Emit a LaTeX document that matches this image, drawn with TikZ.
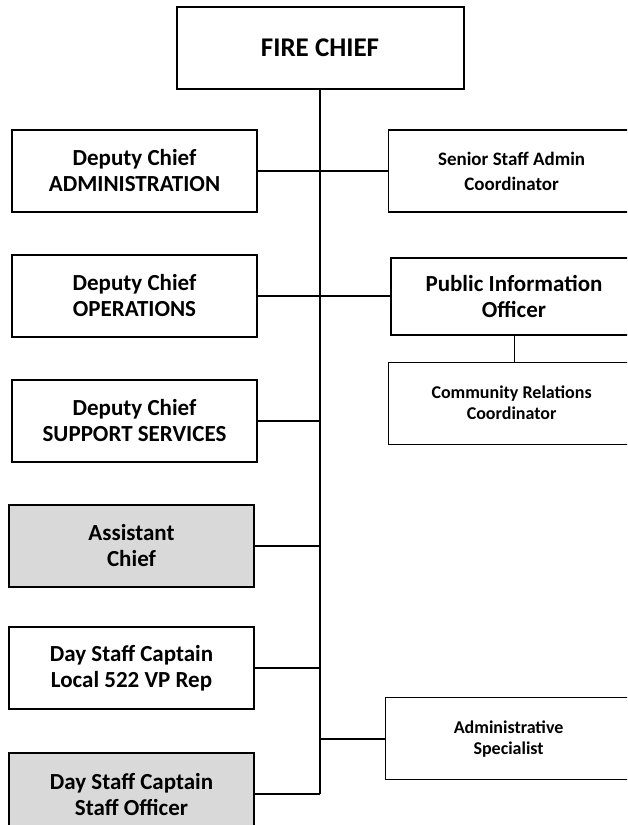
\documentclass[tikz,border=0pt]{standalone}
\usepackage{fontspec}
\setmainfont{Carlito}
\usetikzlibrary{positioning}
\definecolor{grayfill}{HTML}{D9D9D9}
\colorlet{colLine}{black}
\colorlet{colFill}{grayfill}
\tikzset{
  boxBase/.style={
    draw=colLine, line width=2pt, inner sep=0pt,
    minimum height=82pt, minimum width=245pt,
    align=center, font=\fontsize{23}{26}\selectfont\bfseries,
    fill=white
  },
  boxChief/.style={boxBase, minimum width=287pt, font=\fontsize{27}{32}\selectfont\bfseries},
  boxGray/.style={boxBase, fill=colFill},
  boxStaff/.style={boxBase, line width=1.2pt, minimum width=246pt,
    font=\fontsize{18}{21}\selectfont\bfseries},
  boxInfo/.style={boxBase, minimum width=246pt, minimum height=77pt},
  connector/.style={line width=2pt, colLine},
  connectorThin/.style={line width=0.8pt, colLine},
}
\begin{document}
\begin{tikzpicture}
    \useasboundingbox (0,0) rectangle (627pt,-825pt);
    \clip (0,0) rectangle (627pt,-825pt);

    % Fire chief
    \node[boxChief] (chief) at (320pt,-48pt) {FIRE CHIEF};

    % Left column
    \node[boxBase, anchor=north west] (dcAdmin) at (11pt,-129pt) {Deputy Chief\\ADMINISTRATION};
    \node[boxBase, below=41pt of dcAdmin] (dcOper) {Deputy Chief\\OPERATIONS};
    \node[boxBase, below=41pt of dcOper] (dcSupport) {Deputy Chief\\SUPPORT SERVICES};
    \node[boxGray, below=41pt of dcSupport, xshift=-3pt] (asstChief) {Assistant\\Chief};
    \node[boxBase, below=38pt of asstChief] (captLocal) {Day Staff Captain\\Local 522 VP Rep};
    \node[boxGray, below=42pt of captLocal] (captOfficer) {Day Staff Captain\\Staff Officer};

    % Right column
    \node[boxStaff, right=130pt of dcAdmin, font=\fontsize{19}{25}\selectfont\bfseries] (seniorAdmin) {Senior Staff Admin\\Coordinator};
    \node[boxInfo, right=132pt of dcOper] (pio) {Public Information\\Officer};
    \node[boxStaff, below=26pt of pio.south west, anchor=north west, xshift=-2pt] (commRel) {Community Relations\\Coordinator};
    \node[boxStaff, anchor=north west] (adminSpec) at (385pt,-697pt) {Administrative\\Specialist};

    % Lines
    \draw[connector] (chief) -- (chief.south |- captOfficer.east);
    \draw[connector] (dcAdmin) -- (dcAdmin -| chief);
    \draw[connector] (dcOper) -- (dcOper -| chief);
    \draw[connector] (dcSupport) -- (dcSupport -| chief);
    \draw[connector] (asstChief) -- (asstChief -| chief);
    \draw[connector] (captLocal) -- (captLocal -| chief);
    \draw[connector] (captOfficer) -- (captOfficer -| chief);
    \draw[connector] (seniorAdmin) -- (seniorAdmin -| chief);
    \draw[connector] (pio) -- (pio -| chief);
    \draw[connector] (adminSpec) -- (adminSpec -| chief);
    \draw[connectorThin] (pio) -- (pio.south |- commRel.north);
\end{tikzpicture}
\end{document}
